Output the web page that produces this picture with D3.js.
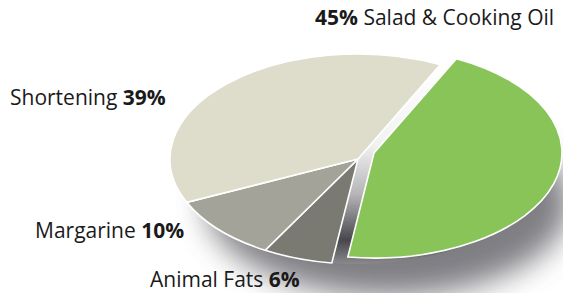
<!DOCTYPE html>
<html>
<head>
<meta charset="utf-8">
<script src="https://cdn.jsdelivr.net/npm/d3@7"></script>
<style>
  body { margin: 0; background: #fff; }
  text { font-family: "Open Sans", Lato, sans-serif; fill: #1a1a1a; }
</style>
</head>
<body>
<div id="chart"></div>
<script>
const w = 563;
const h = 293;

// data, clockwise from the top-right gap
const categories = ["Salad & Cooking Oil", "Animal Fats", "Margarine", "Shortening"];
const values = [45, 6, 10, 39];
const colors = ["#88c458", "#7a7a72", "#a3a39a", "#dedccb"];

const cx = 358, cy = 159;
const rx = 188, ry = 105;
const explode = [16, -6];

let svg = d3.select("#chart")
    .append("svg")
    .attr("width", w)
    .attr("height", h);

const defs = svg.append("defs");

defs.append("filter")
    .attr("id", "blur")
    .attr("x", "-30%").attr("y", "-30%")
    .attr("width", "160%").attr("height", "160%")
    .append("feGaussianBlur")
    .attr("stdDeviation", 15);

const wall = defs.append("linearGradient")
    .attr("id", "wall")
    .attr("x1", 0).attr("y1", 0).attr("x2", 0).attr("y2", 1);
[[0, "#ffffff"], [0.4, "#f2f2f2"], [0.65, "#b5b5b8"], [0.88, "#48484c"], [1, "#8a8a8e"]]
    .forEach(s => wall.append("stop").attr("offset", s[0]).attr("stop-color", s[1]));

// soft shadow under the pie
svg.append("ellipse")
    .attr("cx", cx + 30)
    .attr("cy", cy + 44)
    .attr("rx", rx - 6)
    .attr("ry", ry - 12)
    .attr("fill", "#5a5a60")
    .attr("opacity", 0.78)
    .attr("filter", "url(#blur)");

const pie = d3.pie()
    .sort(null)
    .startAngle(26 * Math.PI / 180)
    .endAngle(26 * Math.PI / 180 + 2 * Math.PI);

const arcs = pie(values);
const arc = d3.arc().innerRadius(0).outerRadius(rx);

function slice(g, d, fill) {
    g.append("path")
        .attr("d", arc(d))
        .attr("transform", "scale(1," + (ry / rx) + ")")
        .attr("fill", fill)
        .attr("stroke", "#fff")
        .attr("stroke-width", 1.6)
        .attr("vector-effect", "non-scaling-stroke");
}

// side wall showing through the gap of the pulled-out slice
const wallG = svg.append("g").attr("transform", `translate(${cx},${cy})`);
wallG.append("path")
    .attr("d", arc(arcs[0]))
    .attr("transform", "scale(1," + (ry / rx) + ")")
    .attr("fill", "url(#wall)");

const rest = svg.append("g").attr("transform", `translate(${cx},${cy})`);
arcs.slice(1).forEach((d, i) => slice(rest, d, colors[i + 1]));

const green = svg.append("g")
    .attr("transform", `translate(${cx + explode[0]},${cy + explode[1]})`);
slice(green, arcs[0], colors[0]);

// labels
const labels = [
    { x: 315, y: 25, pct: "45%", name: "Salad & Cooking Oil", before: true },
    { x: 10, y: 105, pct: "39%", name: "Shortening", before: false },
    { x: 35, y: 238, pct: "10%", name: "Margarine", before: false },
    { x: 150, y: 287, pct: "6%", name: "Animal Fats", before: false }
];

labels.forEach(l => {
    const t = svg.append("text")
        .attr("x", l.x)
        .attr("y", l.y)
        .style("font-size", "21px");
    if (l.before) {
        t.append("tspan").attr("font-weight", "bold").text(l.pct);
        t.append("tspan").text(" " + l.name);
    } else {
        t.append("tspan").text(l.name + " ");
        t.append("tspan").attr("font-weight", "bold").text(l.pct);
    }
});
</script>
</body>
</html>
